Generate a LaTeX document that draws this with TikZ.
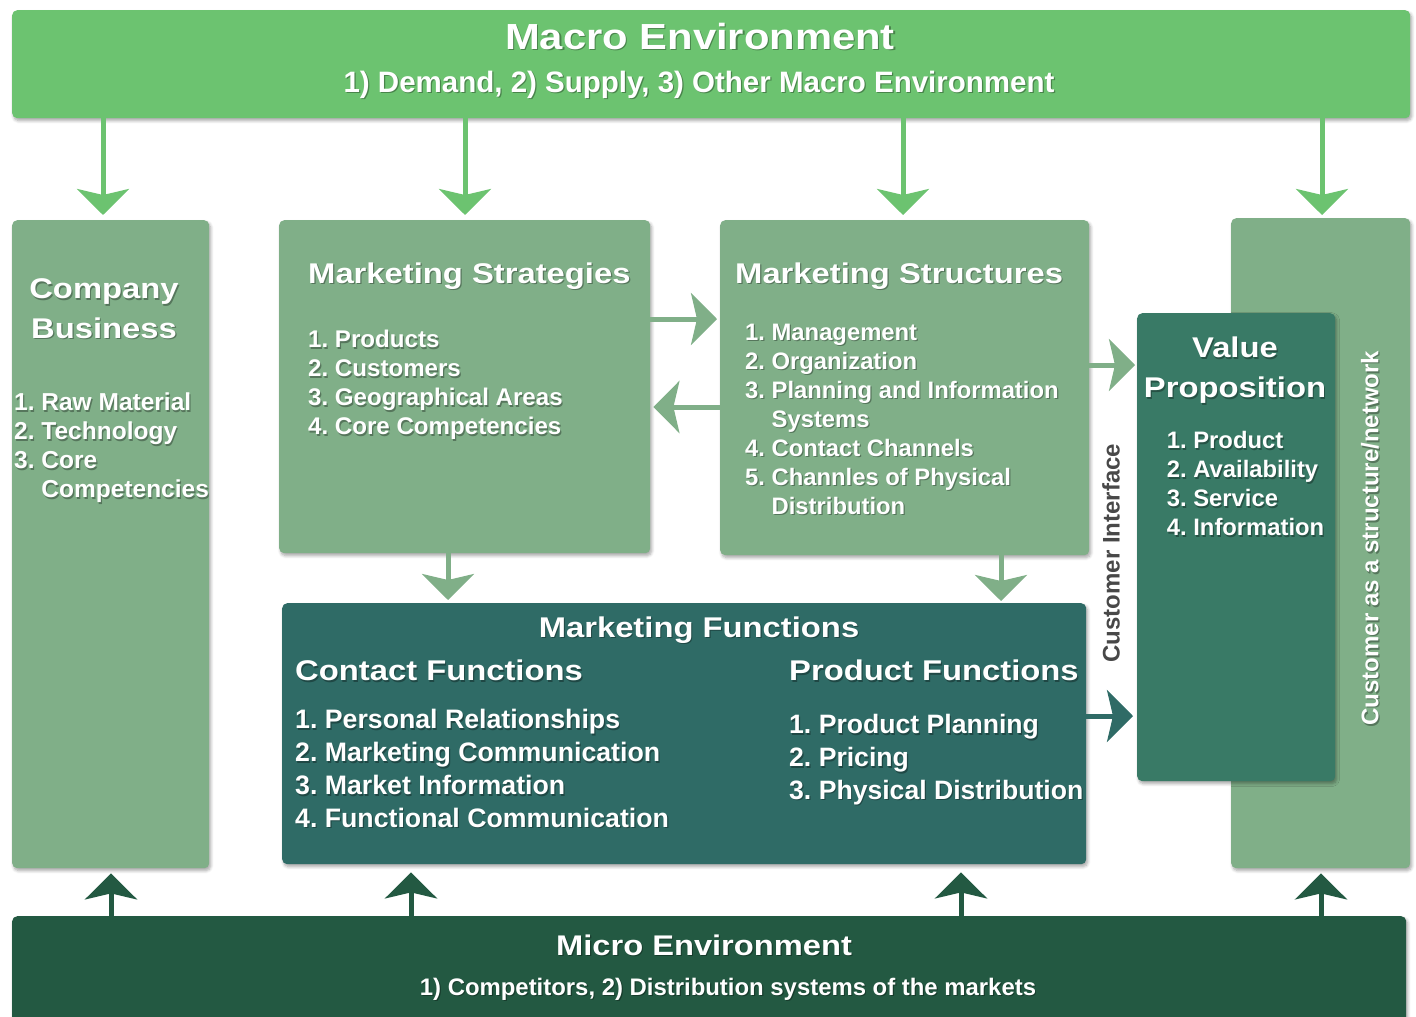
\documentclass[tikz,border=0pt]{standalone}
\usepackage{fontspec}
\setmainfont{Liberation Sans}
\newfontfamily\wideface[FakeStretch=1.15]{Liberation Sans}
\frenchspacing
\usetikzlibrary{arrows.meta,shadows.blur}
\definecolor{macroG}{RGB}{108,195,112}
\definecolor{boxG}{RGB}{128,175,136}
\definecolor{funcT}{RGB}{47,107,102}
\definecolor{valT}{RGB}{57,122,102}
\definecolor{microG}{RGB}{35,89,66}
\definecolor{ifaceGray}{RGB}{72,72,72}
\newcommand\shnode[4]{%
  \node[xshift=1.2pt,yshift=-1.8pt,#2,text=black,text opacity=0.32] (#1-sh) at (#3) {#4};
  \node[#2] (#1) at (#3) {#4};}
\tikzset{
  box/.style={rectangle, rounded corners=5pt, inner sep=0pt, anchor=north west,
    blur shadow={shadow xshift=1.5pt, shadow yshift=-2.5pt, shadow blur steps=6, shadow opacity=35, shadow blur radius=3pt}},
  ttl/.style={font=\wideface\bfseries\fontsize{28.5}{39.5}\selectfont, text=white, inner sep=0pt, align=center},
  lst/.style={text=white, inner sep=0pt, align=left, anchor=north west},
  arr/.style={line width=5pt, -{Stealth[length=26pt,width=52pt,inset=6pt]}}
}
\begin{document}
\begin{tikzpicture}[x=1pt,y=-1pt]
\useasboundingbox (0,0) rectangle (1416,1017);
% boxes
\node[box, fill=macroG, minimum width=1398pt, minimum height=108pt] (macro) at (12,10) {};
\node[box, fill=boxG, minimum width=197pt, minimum height=648pt] (company) at (12,220) {};
\node[box, fill=boxG, minimum width=371pt, minimum height=333pt] (strat) at (279,220) {};
\node[box, fill=boxG, minimum width=369pt, minimum height=335pt] (struct) at (720,220) {};
\node[box, fill=boxG, minimum width=179pt, minimum height=650pt] (cust) at (1231,218) {};
\node[box, fill=valT, minimum width=198pt, minimum height=468pt] (value) at (1137,313) {};
\node[box, fill=funcT, minimum width=804pt, minimum height=261pt] (func) at (282,603) {};
\node[box, fill=microG, minimum width=1394pt, minimum height=120pt] (micro) at (12,916) {};
% arrows from macro
\draw[arr, draw=macroG, fill=macroG, shorten >=5pt] (macro.south -| 103,0) -- (company.north -| 103,0);
\draw[arr, draw=macroG, fill=macroG, shorten >=5pt] (macro.south -| 465,0) -- (strat.north -| 465,0);
\draw[arr, draw=macroG, fill=macroG, shorten >=5pt] (macro.south -| 903,0) -- (struct.north -| 903,0);
\draw[arr, draw=macroG, fill=macroG, shorten >=3pt] (macro.south -| 1322,0) -- (cust.north -| 1322,0);
% arrows between boxes
\draw[arr, draw=boxG, fill=boxG, shorten >=3pt] (strat.east |- 0,319) -- (struct.west |- 0,319);
\draw[arr, draw=boxG, fill=boxG, shorten >=3pt] (struct.west |- 0,407) -- (strat.east |- 0,407);
\draw[arr, draw=boxG, fill=boxG, shorten >=3pt] (strat.south -| 448,0) -- (func.north -| 448,0);
\draw[arr, draw=boxG, fill=boxG, shorten >=2pt] (struct.south -| 1001,0) -- (func.north -| 1001,0);
\draw[arr, draw=boxG, fill=boxG, shorten >=2pt] (struct.east |- 0,365) -- (value.west |- 0,365);
\draw[arr, draw=funcT, fill=funcT, shorten >=4pt] (func.east |- 0,716) -- (value.west |- 0,716);
% arrows from micro
\draw[arr, draw=microG, fill=microG, shorten >=5pt] (micro.north -| 111,0) -- (company.south -| 111,0);
\draw[arr, draw=microG, fill=microG, shorten >=8pt] (micro.north -| 411,0) -- (func.south -| 411,0);
\draw[arr, draw=microG, fill=microG, shorten >=8pt] (micro.north -| 961,0) -- (func.south -| 961,0);
\draw[arr, draw=microG, fill=microG, shorten >=5pt] (micro.north -| 1321,0) -- (cust.south -| 1321,0);
% macro texts
\shnode{macroT}{font=\wideface\bfseries\fontsize{36.3}{40}\selectfont, text=white, inner sep=0pt, anchor=base}{700,49}{Macro Environment}
\shnode{macroS}{font=\bfseries\fontsize{29.5}{32}\selectfont, text=white, inner sep=0pt, anchor=base}{699,92}{1) Demand, 2) Supply, 3) Other Macro Environment}
% company
\shnode{compT}{ttl, anchor=north}{104,278.5}{Company\\Business}
\shnode{compL}{lst, font=\bfseries\fontsize{24.5}{28.9}\selectfont}{14,392.7}{1. Raw Material\\2. Technology\\3. Core\\\hphantom{3.~}Competencies}
% strategies
\shnode{stratT}{ttl, anchor=base west}{308,283}{Marketing Strategies}
\shnode{stratL}{lst, font=\bfseries\fontsize{24.1}{28.9}\selectfont}{308,330.3}{1. Products\\2. Customers\\3. Geographical Areas\\4. Core Competencies}
% structures
\shnode{structT}{ttl, anchor=base west}{735,283}{Marketing Structures}
\shnode{structL}{lst, font=\bfseries\fontsize{23.8}{29}\selectfont}{745,323.5}{1. Management\\2. Organization\\3. Planning and Information\\\hphantom{3.~}Systems\\4. Contact Channels\\5. Channles of Physical\\\hphantom{5.~}Distribution}
% value proposition
\shnode{valueT}{ttl, anchor=north}{1235,337}{Value\\Proposition}
\shnode{valueL}{lst, font=\bfseries\fontsize{23.8}{29}\selectfont}{1166.7,431}{1. Product\\2. Availability\\3. Service\\4. Information}
% functions
\shnode{funcT}{ttl, anchor=base}{699,637}{Marketing Functions}
\shnode{contT}{ttl, anchor=base west}{295,680.5}{Contact Functions}
\shnode{contL}{lst, font=\bfseries\fontsize{26.7}{32.7}\selectfont}{295,709.4}{1. Personal Relationships\\2. Marketing Communication\\3. Market Information\\4. Functional Communication}
\shnode{prodT}{ttl, anchor=base west}{789,680.5}{Product Functions}
\shnode{prodL}{lst, font=\bfseries\fontsize{26.6}{32.8}\selectfont}{789,714.1}{1. Product Planning\\2. Pricing\\3. Physical Distribution}
% micro
\shnode{microT}{font=\wideface\bfseries\fontsize{28.4}{32}\selectfont, text=white, inner sep=0pt, anchor=base}{704,955}{Micro Environment}
\shnode{microS}{font=\bfseries\fontsize{23.9}{28}\selectfont, text=white, inner sep=0pt, anchor=base}{728,995}{1) Competitors, 2) Distribution systems of the markets}
% rotated labels
\node[font=\bfseries\fontsize{24}{28}\selectfont, text=ifaceGray, inner sep=0pt, rotate=90] (iface) at (1111,553) {Customer Interface};
\shnode{custT}{font=\bfseries\fontsize{24}{28}\selectfont, text=white, inner sep=0pt, rotate=90}{1370,538}{Customer as a structure/network}
\end{tikzpicture}
\end{document}
